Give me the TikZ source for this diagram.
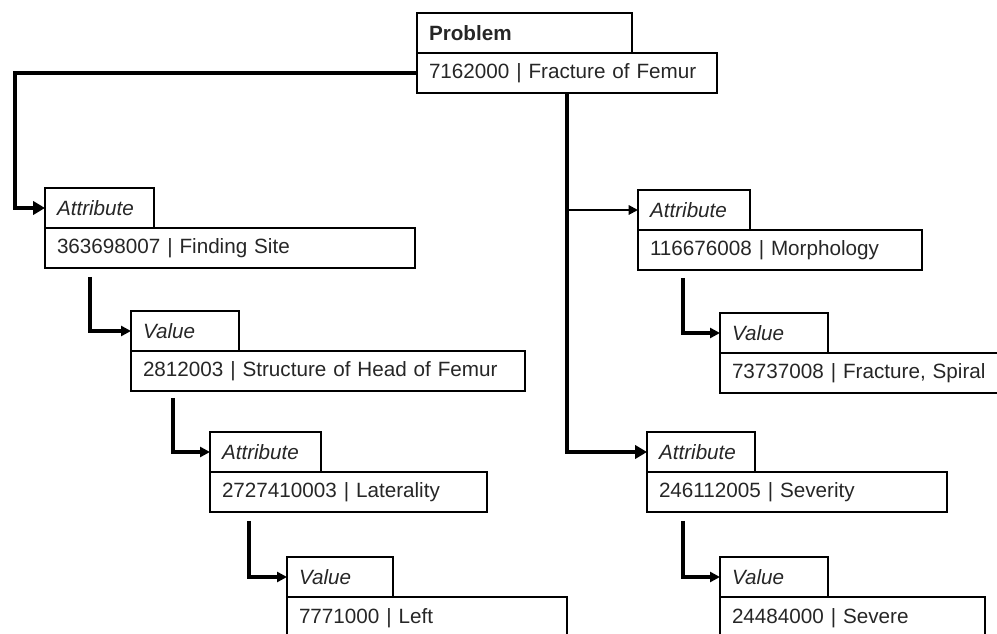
\documentclass[tikz,border=0pt]{standalone}
\usepackage{fontspec}
\setmainfont{Liberation Sans}
\usetikzlibrary{arrows.meta}

\begin{document}
\begin{tikzpicture}[
    x=0.75pt, y=-0.75pt,
    every node/.style={font=\fontsize{15.5}{18}\selectfont, text=black!85},
    tab/.style={
      draw=black, line width=1.2pt, align=left, anchor=south west,
      minimum height=30pt, inner xsep=9pt, outer sep=0pt, text width=#1
    },
    entry/.style={
      draw=black, line width=1.2pt, align=left, anchor=north west,
      minimum height=30pt, inner xsep=9pt, outer sep=0pt, text width=#1
    },
    trunk/.style={-{Triangle[length=9pt,width=10pt]},line width=3.5pt,draw=black},
    branch/.style={-{Triangle[length=7pt,width=7pt]},line width=1.5pt,draw=black},
    link/.style={-{Triangle[length=7.5pt,width=7.5pt]},line width=2.3pt,draw=black}
  ]
    \useasboundingbox (0,0) rectangle (997,634);

    \node[entry=207pt] (problem) at (417,53) {7162000 | Fracture of Femur};
    \node[tab=143.25pt] (problemhd) at (problem.north west) {\textbf{Problem}};

    \node[entry=259.5pt] (site) at (45,228) {363698007 | Finding Site};
    \node[tab=63.75pt] (sitehd) at (site.north west) {\textit{Attribute}};
    \node[entry=277.5pt] (head) at (131,351) {2812003 | Structure of Head of Femur};
    \node[tab=63pt] (headhd) at (head.north west) {\textit{Value}};
    \node[entry=189.75pt] (lat) at (210,472) {2727410003 | Laterality};
    \node[tab=65.25pt] (lathd) at (lat.north west) {\textit{Attribute}};
    \node[entry=192pt,minimum height=32pt] (leftval) at (287,597) {7771000 | Left};
    \node[tab=61.5pt] (leftvalhd) at (leftval.north west) {\textit{Value}};

    \node[entry=195pt] (morph) at (638,230) {116676008 | Morphology};
    \node[tab=66pt] (morphhd) at (morph.north west) {\textit{Attribute}};
    \node[entry=199.5pt] (spiral) at (720,353) {73737008 | Fracture, Spiral};
    \node[tab=63pt] (spiralhd) at (spiral.north west) {\textit{Value}};
    \node[entry=207pt] (sev) at (647,472) {246112005 | Severity};
    \node[tab=63pt] (sevhd) at (sev.north west) {\textit{Attribute}};
    \node[entry=180.75pt,minimum height=32pt] (severe) at (720,597) {24484000 | Severe};
    \node[tab=63pt] (severehd) at (severe.north west) {\textit{Value}};

    \draw[trunk] (problem.west) -| ([xshift=-22.5pt]sitehd.west) -- (sitehd.west);
    \draw[trunk] (problem.south) |- (sevhd.west);
    \draw[branch] (problem.south |- morphhd.west) -- (morphhd.west);

    \draw[link] ([shift={(45,9)}]site.south west) |- (headhd.west);
    \draw[link] ([shift={(42,7)}]head.south west) |- (lathd.west);
    \draw[link] ([shift={(39,9)}]lat.south west) |- (leftvalhd.west);
    \draw[link] ([shift={(45,8)}]morph.south west) |- (spiralhd.west);
    \draw[link] ([shift={(36,9)}]sev.south west) |- (severehd.west);
  \end{tikzpicture}
\end{document}
